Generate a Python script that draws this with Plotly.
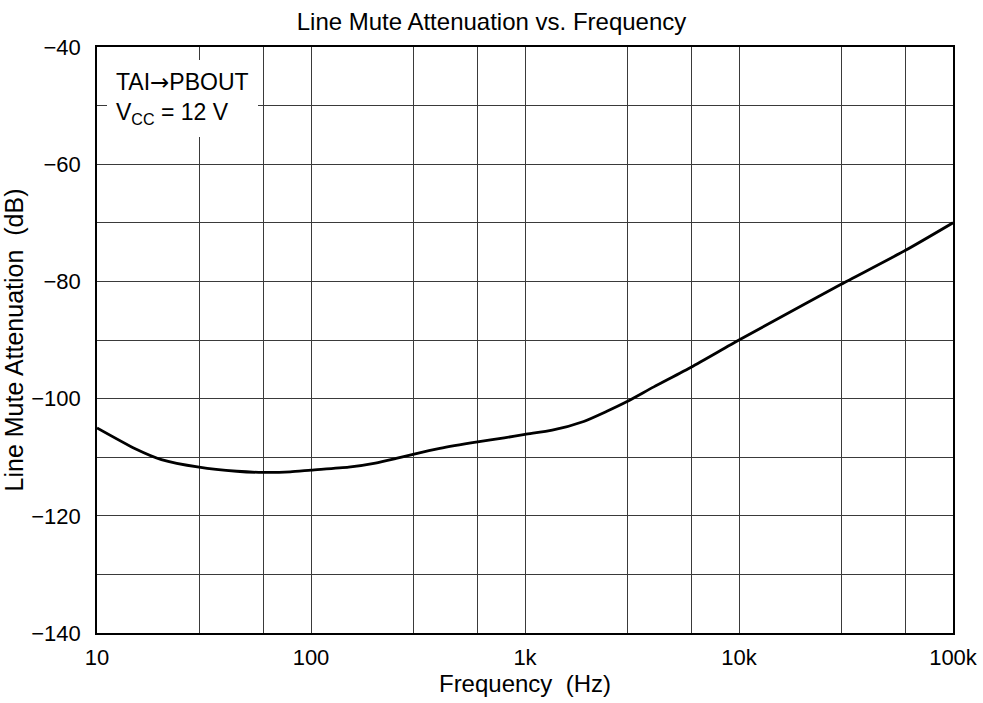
import plotly.graph_objects as go

freq_hz = [10, 15, 20, 30, 45, 60, 80, 100, 150, 200, 250, 300, 400, 600, 800,
           1000, 1340, 1880, 2400, 3000, 4000, 6000, 10000, 20000, 30000, 60000, 100000]
atten_db = [-105.0, -108.5, -110.4, -111.7, -112.4, -112.6, -112.5, -112.2, -111.7, -111.0,
            -110.2, -109.5, -108.5, -107.4, -106.7, -106.1, -105.4, -103.9, -102.2, -100.5,
            -98.0, -94.6, -90.0, -84.0, -80.5, -74.7, -70.0]

x_major = [10, 100, 1000, 10000, 100000]
x_major_text = ["10", "100", "1k", "10k", "100k"]
x_minor = [30, 60, 300, 600, 3000, 6000, 30000, 60000]
y_major = [-140, -120, -100, -80, -60, -40]
y_major_text = ["\u2212140", "\u2212120", "\u2212100", "\u221280", "\u221260", "\u221240"]
y_minor = [-130, -110, -90, -70, -50]

FONT = "Liberation Sans, Arial, sans-serif"
GRID = "#3a3a3a"

fig = go.Figure()
fig.add_trace(go.Scatter(
    x=freq_hz, y=atten_db, mode="lines",
    line=dict(color="black", width=2.8, shape="spline", smoothing=0.6),
    showlegend=False, hoverinfo="skip"))

W, H = 983, 703
fig.update_layout(
    width=W, height=H,
    margin=dict(l=97, r=30, t=47, b=70, autoexpand=False),
    paper_bgcolor="white", plot_bgcolor="white",
    font=dict(family=FONT, size=22, color="black"),
    title=dict(text="Line Mute Attenuation vs. Frequency", x=0.5, xanchor="center",
               y=1 - 22 / H, yanchor="middle", yref="container",
               font=dict(size=24, family=FONT, color="black")),
)

fig.update_xaxes(
    type="log", range=[1, 5], automargin=False,
    tickmode="array", tickvals=x_major, ticktext=x_major_text,
    showgrid=True, gridcolor=GRID, gridwidth=1,
    minor=dict(tickvals=x_minor, showgrid=True, gridcolor=GRID, gridwidth=1, ticks=""),
    showline=True, linecolor="black", linewidth=1.6, mirror=True,
    ticks="", ticklabelstandoff=4,
    tickfont=dict(size=22, family=FONT),
    title=dict(text="Frequency  (Hz)", font=dict(size=24, family=FONT), standoff=2),
    zeroline=False,
)
fig.update_yaxes(
    range=[-140, -40], automargin=False,
    tickmode="array", tickvals=y_major, ticktext=y_major_text,
    showgrid=True, gridcolor=GRID, gridwidth=1,
    minor=dict(tickvals=y_minor, showgrid=True, gridcolor=GRID, gridwidth=1, ticks=""),
    showline=True, linecolor="black", linewidth=1.6, mirror=True,
    ticks="", ticklabelstandoff=10,
    tickfont=dict(size=22, family=FONT),
    title=dict(text="Line Mute Attenuation  (dB)", font=dict(size=25, family=FONT), standoff=0),
    zeroline=False,
)

fig.add_annotation(
    xref="paper", yref="paper", x=0.0117, y=0.978, xanchor="left", yanchor="top",
    text="TAI<span style=\"font-family:DejaVu Sans\">\u2192</span>PBOUT<br>V<sub>CC</sub> = 12 V",
    align="left", showarrow=False,
    font=dict(size=23, family=FONT, color="black"),
    bgcolor="white", borderpad=9, borderwidth=0,
)

fig.write_html(
    "out.html",
    config={"displayModeBar": False},
    post_script="document.body.style.margin='0';document.body.style.overflow='hidden';",
)
